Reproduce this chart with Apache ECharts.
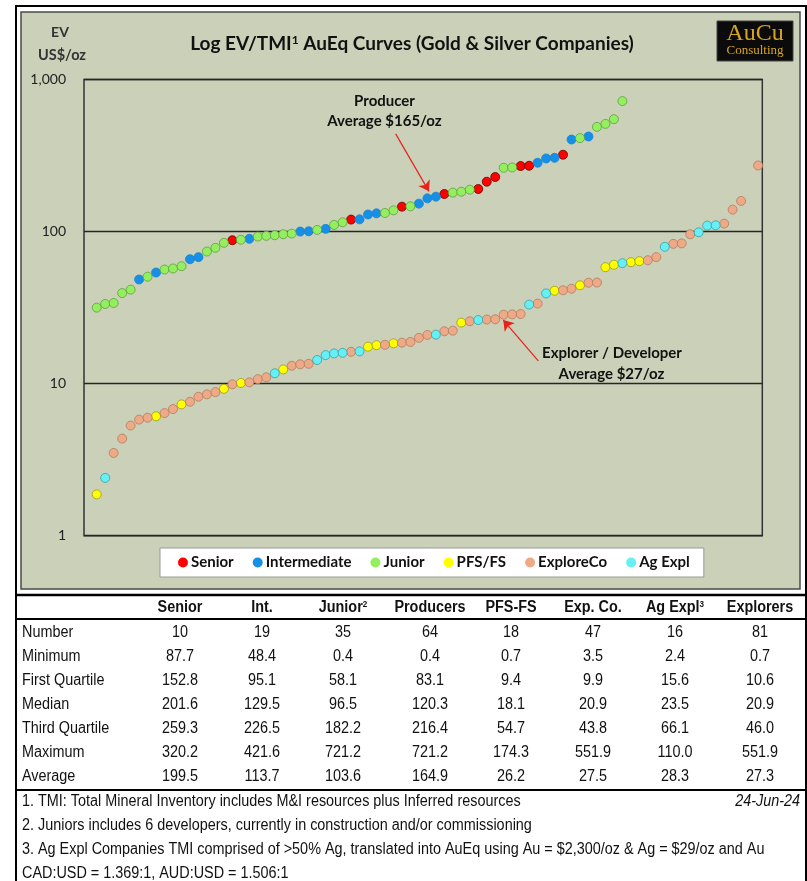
<!DOCTYPE html>
<html>
<head>
<meta charset="utf-8">
<script src="https://cdn.jsdelivr.net/npm/echarts@6/dist/echarts.min.js"></script>
<style>
  html, body { margin: 0; padding: 0; background: #ffffff; }
  #chart { width: 807px; height: 881px; }
</style>
</head>
<body>
<div id="chart"></div>
<script>
// EV / TMI (US$ per AuEq oz), companies ranked from lowest to highest on each curve
const producerEV = [
  31.6, 33.4, 33.9, 39.4, 41.5, 48.4, 50.5, 53.8, 56.3, 57.2,
  59.2, 65.8, 67.9, 73.9, 78.2, 84.3, 87.7, 88.4, 89.6, 92.7,
  93.7, 94.6, 96.0, 97.0, 100.0, 100.5, 102.6, 104.2, 110.6, 115.1,
  119.9, 120.3, 129.5, 131.8, 132.5, 137.9, 145.8, 146.5, 152.6, 165.3,
  169.6, 176.7, 180.3, 182.9, 188.6, 190.5, 212.8, 228.5, 262.8, 264.0,
  269.7, 270.9, 283.5, 302.5, 305.6, 320.2, 402.9, 411.5, 421.6, 488.0,
  510.7, 548.3, 721.2
];
// S = Senior, I = Intermediate, J = Junior
const producerTier = 'JJJJJIJIJJJIIJJJSJIJJJJJIIJIJJSIIIJJSJIIISJJJSSSJJSSIIISIJIJJJJ'.split('');

const explorerEV = [
  1.87, 2.4, 3.5, 4.35, 5.3, 5.8, 5.97, 6.1, 6.4, 6.8,
  7.3, 7.6, 8.2, 8.5, 8.8, 9.25, 9.9, 10.1, 10.2, 10.7,
  11.0, 11.7, 12.4, 13.1, 13.4, 13.5, 14.3, 15.4, 15.8, 15.95,
  16.2, 16.3, 17.5, 17.9, 18.0, 18.4, 18.6, 18.8, 20.0, 20.9,
  21.0, 22.1, 22.3, 25.2, 25.7, 26.2, 26.4, 26.5, 28.4, 28.55,
  28.7, 33.1, 33.6, 39.2, 40.8, 41.1, 42.1, 44.3, 46.1, 46.2,
  58.3, 60.5, 62.0, 62.9, 63.9, 64.8, 67.9, 79.4, 83.0, 83.6,
  96.0, 98.9, 109.5, 110.0, 112.8, 139.4, 159.0, null, 272.0
];
// P = PFS/FS, E = ExploreCo, A = Ag Expl, - = empty slot
const explorerTier = 'PAEEEEEPEEPEEEEPEPEEEAPEEEAAAAEAPPEPEEEEAEEPEAEEEEEAEAPEEPEEPPAPPEEAEEEAAAEEE-E'.split('');

const tierNames = ['Senior', 'Intermediate', 'Junior', 'PFS/FS', 'ExploreCo', 'Ag Expl'];
const tierCodes = ['S', 'I', 'J', 'P', 'E', 'A'];
const tierFill = ['#ff0000', '#1590e6', '#93ef60', '#ffff00', '#eeaa86', '#66eff4'];
const tierEdge = ['#6a0000', '#1684d2', '#5e9e3c', '#9a9a10', '#b07c5e', '#3a9ea6'];

const yTicks = [1, 10, 100, 1000];

// Summary table
const tableHeaders = ['Senior', 'Int.', 'Junior', 'Producers', 'PFS-FS', 'Exp. Co.', 'Ag Expl', 'Explorers'];
const headerNotes = ['', '', '2', '', '', '', '3', ''];
const rowLabels = ['Number', 'Minimum', 'First Quartile', 'Median', 'Third Quartile', 'Maximum', 'Average'];
const rowNumber = ['10', '19', '35', '64', '18', '47', '16', '81'];
const rowMinimum = ['87.7', '48.4', '0.4', '0.4', '0.7', '3.5', '2.4', '0.7'];
const rowFirstQuartile = ['152.8', '95.1', '58.1', '83.1', '9.4', '9.9', '15.6', '10.6'];
const rowMedian = ['201.6', '129.5', '96.5', '120.3', '18.1', '20.9', '23.5', '20.9'];
const rowThirdQuartile = ['259.3', '226.5', '182.2', '216.4', '54.7', '43.8', '66.1', '46.0'];
const rowMaximum = ['320.2', '421.6', '721.2', '721.2', '174.3', '551.9', '110.0', '551.9'];
const rowAverage = ['199.5', '113.7', '103.6', '164.9', '26.2', '27.5', '28.3', '27.3'];
const footnotes = [
  '1. TMI: Total Mineral Inventory includes M&I resources plus Inferred resources',
  '2. Juniors includes 6 developers, currently in construction and/or commissioning',
  '3. Ag Expl Companies TMI comprised of >50% Ag, translated into AuEq using Au = $2,300/oz & Ag = $29/oz and Au',
  'CAD:USD = 1.369:1, AUD:USD = 1.506:1'
];
const reportDate = '24-Jun-24';

// ---- layout ----
const FONT_C = "Lato, 'Open Sans', sans-serif";
const FONT_T = "'Liberation Sans', Arial, sans-serif";
const NARROW = 0.9;              // horizontal squeeze for the table typeface
const PANEL = '#cbd0b9';
const colX = [180, 262, 343, 430, 511, 593, 675, 760];
const headerY = 608;
const rowY0 = 633, rowStep = 24;
const noteY0 = 802, noteStep = 23.7;

// one scatter series per tier, x = rank position on its curve
function buildPoints(code) {
  const pts = [];
  [[producerEV, producerTier], [explorerEV, explorerTier]].forEach(([vals, tiers]) => {
    vals.forEach((v, i) => {
      if (v !== null && tiers[i] === code) pts.push([i + 1, v]);
    });
  });
  return pts;
}

function text(x, y, str, font, extra, sx) {
  return {
    type: 'text', x, y, silent: true, scaleX: sx || 1,
    style: Object.assign({
      text: str, font: font, fill: '#111',
      textAlign: 'left', align: 'left',
      textVerticalAlign: 'middle', verticalAlign: 'middle'
    }, extra || {})
  };
}

const graphics = [];
// outer frame and chart panel
graphics.push({ type: 'rect', z: -100, silent: true, shape: { x: 16, y: 6, width: 790, height: 900 },
  style: { fill: '#ffffff', stroke: '#000', lineWidth: 2 } });
graphics.push({ type: 'rect', z: -90, silent: true, shape: { x: 21, y: 12, width: 779, height: 577 },
  style: { fill: PANEL, stroke: '#4a4a4a', lineWidth: 1.5 } });
// table rules
[[595, 2.5], [619, 2], [790, 2]].forEach(([y, w]) => {
  graphics.push({ type: 'line', silent: true, shape: { x1: 16, y1: y, x2: 806, y2: y },
    style: { stroke: '#000', lineWidth: w } });
});

// logo
graphics.push({ type: 'rect', silent: true, shape: { x: 717, y: 21, width: 76, height: 40 },
  style: { fill: '#0b0b0b', stroke: '#444', lineWidth: 1 } });
graphics.push(text(755, 34, 'AuCu', "24px 'Liberation Serif', 'DejaVu Serif', serif", { fill: '#d9a520', textAlign: 'center', align: 'center' }));
graphics.push(text(755, 51, 'Consulting', "13px 'Liberation Serif', 'DejaVu Serif', serif", { fill: '#d9a520', textAlign: 'center', align: 'center' }));

// title and axis caption
graphics.push({
  type: 'text', x: 412, y: 44, silent: true,
  style: {
    text: '{t|Log EV/TMI}{s|1}{t| AuEq Curves (Gold & Silver Companies)}',
    textAlign: 'center', align: 'center', textVerticalAlign: 'middle', verticalAlign: 'middle',
    rich: {
      t: { fontFamily: FONT_C, fontWeight: 'bold', fontSize: 19, fill: '#111', color: '#111' },
      s: { fontFamily: FONT_C, fontWeight: 'bold', fontSize: 12, fill: '#111', color: '#111', verticalAlign: 'top' }
    }
  }
});
graphics.push(text(60, 32, 'EV', `bold 14px ${FONT_C}`, { fill: '#333', textAlign: 'center', align: 'center' }));
graphics.push(text(62, 55, 'US$/oz', `bold 14.5px ${FONT_C}`, { fill: '#333', textAlign: 'center', align: 'center' }));

// curve call-outs
graphics.push(text(384.5, 101.5, 'Producer', `bold 15px ${FONT_C}`, { textAlign: 'center', align: 'center' }));
graphics.push(text(384.5, 121.5, 'Average $165/oz', `bold 15px ${FONT_C}`, { textAlign: 'center', align: 'center' }));
graphics.push(text(612, 353, 'Explorer / Developer', `bold 15px ${FONT_C}`, { textAlign: 'center', align: 'center' }));
graphics.push(text(611.5, 374, 'Average $27/oz', `bold 15px ${FONT_C}`, { textAlign: 'center', align: 'center' }));

// table header
tableHeaders.forEach((h, i) => {
  const note = headerNotes[i];
  graphics.push({
    type: 'text', x: colX[i], y: headerY, silent: true, scaleX: NARROW,
    style: {
      text: note ? `{h|${h}}{n|${note}}` : `{h|${h}}`,
      textAlign: 'center', align: 'center', textVerticalAlign: 'middle', verticalAlign: 'middle',
      rich: {
        h: { fontFamily: FONT_T, fontWeight: 'bold', fontSize: 16, fill: '#111', color: '#111' },
        n: { fontFamily: FONT_T, fontWeight: 'bold', fontSize: 9, fill: '#111', color: '#111', verticalAlign: 'top' }
      }
    }
  });
});
// table body
const tableRows = [rowNumber, rowMinimum, rowFirstQuartile, rowMedian, rowThirdQuartile, rowMaximum, rowAverage];
rowLabels.forEach((lab, r) => {
  const y = rowY0 + r * rowStep;
  graphics.push(text(22, y, lab, `16px ${FONT_T}`, null, NARROW));
  tableRows[r].forEach((v, c) => {
    graphics.push(text(colX[c], y, v, `16px ${FONT_T}`, { textAlign: 'center', align: 'center' }, NARROW));
  });
});
// footnotes
footnotes.forEach((n, i) => {
  graphics.push(text(22, noteY0 + i * noteStep, n, `16px ${FONT_T}`, null, NARROW));
});
graphics.push(text(800, noteY0, reportDate, `italic 16px ${FONT_T}`, { textAlign: 'right', align: 'right' }, NARROW));

// arrows from the call-outs to the curves (rank, EV)
const arrowLines = [
  [{ coord: [36.26, 439] }, { coord: [40.19, 183.8] }],
  [{ coord: [53.08, 14.1] }, { coord: [48.95, 26.2] }]
];

const series = tierNames.map((name, t) => ({
  type: 'scatter',
  name: name,
  data: buildPoints(tierCodes[t]),
  symbol: 'circle',
  symbolSize: 9,
  itemStyle: { color: tierFill[t], borderColor: tierEdge[t], borderWidth: 0.8, opacity: 1 },
  emphasis: { disabled: true },
  z: 3
}));
series[0].markLine = {
  silent: true,
  symbol: ['none', 'arrow'],
  symbolSize: 10,
  label: { show: false },
  lineStyle: { color: '#e8221b', width: 1.2, type: 'solid' },
  data: arrowLines
};

const chart = echarts.init(document.getElementById('chart'), null, { renderer: 'canvas' });
chart.setOption({
  animation: false,
  backgroundColor: '#ffffff',
  textStyle: { fontFamily: FONT_C },
  grid: {
    left: 84, top: 79.5, width: 678.3, height: 456.2,
    show: true, borderColor: '#333', borderWidth: 1.5, backgroundColor: 'transparent'
  },
  xAxis: { type: 'value', min: -0.5, max: 79.5, show: false },
  yAxis: {
    type: 'log', logBase: 10, min: yTicks[0], max: yTicks[yTicks.length - 1],
    axisLine: { show: false }, axisTick: { show: false },
    splitLine: { show: true, lineStyle: { color: '#262626', width: 1.3 } },
    axisLabel: {
      margin: 18, fontSize: 14, color: '#222', fontFamily: FONT_C,
      formatter: v => Number(v).toLocaleString('en-US')
    }
  },
  legend: {
    data: tierNames,
    left: 160, top: 548,
    backgroundColor: '#ffffff', borderColor: '#999', borderWidth: 1,
    padding: [7, 14, 7, 18],
    itemGap: 19, itemWidth: 10, itemHeight: 10, icon: 'circle',
    itemStyle: { borderWidth: 0 },
    textStyle: { fontFamily: FONT_C, fontWeight: 'bold', fontSize: 15, color: '#111', padding: [0, 0, 0, -2] }
  },
  graphic: { elements: graphics },
  series: series
});
</script>
</body>
</html>
